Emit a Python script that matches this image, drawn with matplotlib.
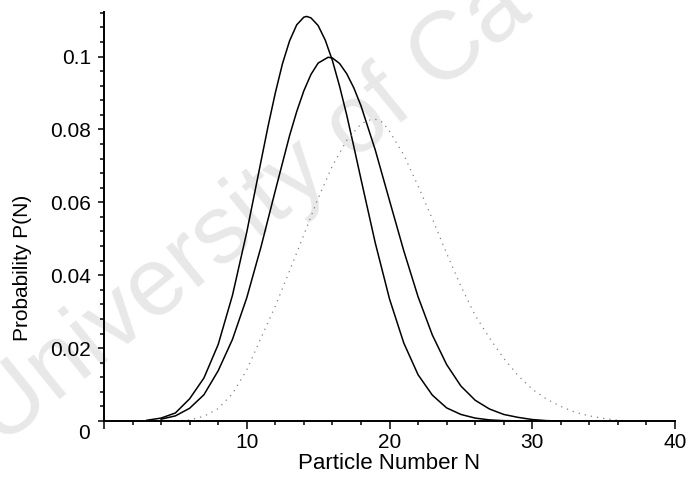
import matplotlib
matplotlib.use("Agg")
import matplotlib.pyplot as plt
from matplotlib.ticker import MultipleLocator

plt.rcParams['font.family'] = ['Liberation Sans', 'DejaVu Sans']

# values
n_a = [3, 4, 5, 6, 7, 8, 9, 10, 11, 11.5, 12, 12.5, 13, 13.5, 14, 14.2, 14.5,
       15, 15.5, 16, 16.5, 17, 17.5, 18, 19, 20, 21, 22, 23, 24, 25, 26, 27, 28, 30]
p_a = [0.0002, 0.0008, 0.0022, 0.0061, 0.0118, 0.0210, 0.0345, 0.0518, 0.0713,
       0.0810, 0.0900, 0.0980, 0.1043, 0.1087, 0.1108, 0.1110, 0.1106, 0.1085,
       0.1045, 0.0989, 0.0919, 0.0840, 0.0753, 0.0664, 0.0489, 0.0335, 0.0214,
       0.0127, 0.0071, 0.0036, 0.0018, 0.0008, 0.0003, 0.0001, 0.0]

n_b = [4, 5, 6, 7, 8, 9, 10, 11, 12, 13, 13.5, 14, 14.5, 15, 15.7, 16, 16.5, 17,
       17.5, 18, 19, 20, 21, 22, 23, 24, 25, 26, 27, 28, 29, 30, 31, 32]
p_b = [0.0005, 0.0014, 0.0035, 0.0072, 0.0138, 0.0224, 0.0338, 0.0478, 0.0632,
       0.0783, 0.0849, 0.0906, 0.0951, 0.0982, 0.0998, 0.0996, 0.0981, 0.0953,
       0.0914, 0.0865, 0.0744, 0.0605, 0.0467, 0.0341, 0.0236, 0.0155, 0.0096,
       0.0057, 0.0033, 0.0018, 0.0010, 0.0004, 0.0001, 0.0]

n_c = [5, 6, 7, 8, 9, 10, 11, 12, 13, 14, 15, 16, 17, 18, 18.5, 19, 19.5, 20, 21,
       22, 23, 24, 25, 26, 27, 28, 29, 30, 31, 32, 33, 34, 35, 36, 37]
p_c = [0.0, 0.0003, 0.0013, 0.0034, 0.0075, 0.0140, 0.0228, 0.0315, 0.0412,
       0.0511, 0.0611, 0.0700, 0.0770, 0.0815, 0.0825, 0.0828, 0.0820, 0.0795,
       0.0730, 0.0645, 0.0555, 0.0460, 0.0370, 0.0290, 0.0228, 0.0172, 0.0125,
       0.0087, 0.0060, 0.0040, 0.0024, 0.0014, 0.0007, 0.0002, 0.0]

y_ticks = [0, 0.02, 0.04, 0.06, 0.08, 0.1]
y_labels = ['', '0.02', '0.04', '0.06', '0.08', '0.1']
x_ticks = [0, 10, 20, 30, 40]
x_labels = ['', '10', '20', '30', '40']

fig = plt.figure(figsize=(6.89, 4.86), dpi=100)

# faint watermark behind the plot
fig.text(0.0, 1 - 447 / 486, 'University of Ca', rotation=39,
         rotation_mode='anchor', ha='left', va='baseline', fontsize=70,
         color='#e8e8e8', zorder=0)

ax = fig.add_axes([104 / 689, 1 - 421 / 486, 571 / 689, 409.3 / 486])
ax.set_zorder(1)
ax.set_facecolor('none')

ax.plot(n_a, p_a, color='black', lw=1.1)
ax.plot(n_b, p_b, color='black', lw=1.1)
ax.plot(n_c, p_c, color='0.5', lw=0.9, ls=(0, (1, 4)))

ax.set_xlim(0, 40)
ax.set_ylim(0, 0.1123)
for s in ['top', 'right']:
    ax.spines[s].set_visible(False)
for s in ['left', 'bottom']:
    ax.spines[s].set_linewidth(1.4)
    ax.spines[s].set_clip_on(False)

ax.set_xticks(x_ticks)
ax.set_xticklabels(x_labels)
ax.set_yticks(y_ticks)
ax.set_yticklabels(y_labels)
ax.xaxis.set_minor_locator(MultipleLocator(2))
ax.yaxis.set_minor_locator(MultipleLocator(0.004))

ax.tick_params(axis='both', which='both', direction='out', width=1.1, labelsize=15)
ax.tick_params(axis='x', which='major', length=5.5, pad=3)
ax.tick_params(axis='x', which='minor', length=3)
ax.tick_params(axis='y', which='major', length=4.5, pad=5)
ax.tick_params(axis='y', which='minor', length=3)

ax.annotate('0', xy=(0, 0), xytext=(-10, -2.5), textcoords='offset points',
            ha='right', va='top', fontsize=15)

fig.text(389.5 / 689, 1 - 463 / 486, 'Particle Number N', ha='center',
         va='center', fontsize=16)
fig.text(23 / 689, 1 - 268 / 486, 'Probability P(N)', ha='center',
         va='center', rotation=90, fontsize=15)

fig.savefig('out.png', dpi=100)
